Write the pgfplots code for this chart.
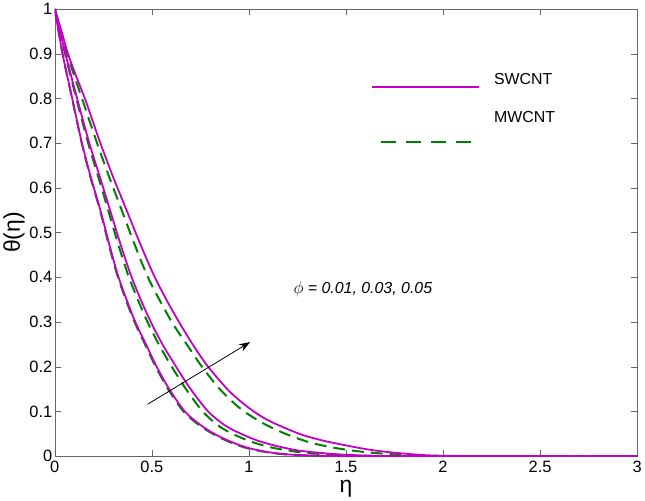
\documentclass[border=0pt]{standalone}
\usepackage{pgfplots}
\pgfplotsset{compat=1.18}
\usepackage{fontspec}
\setmainfont{Liberation Sans}
\usetikzlibrary{arrows.meta}

\definecolor{swcnt}{RGB}{196,0,196}
\definecolor{mwcnt}{RGB}{0,128,0}

\begin{document}
\begin{tikzpicture}
\begin{axis}[
    width=586pt, height=450pt, scale only axis,
    xmin=0, xmax=3, ymin=0, ymax=1,
    xtick={0,0.5,...,3}, ytick={0,0.1,...,1},
    tick align=inside, major tick length=6pt,
    axis line style={black!60}, tick style={black!60},
    tick label style={font=\fontsize{16.5}{18}\selectfont},
    yticklabel style={xshift=1pt},
    xticklabel style={yshift=-1.5pt},
    /pgf/number format/assume math mode=true,
    xlabel={η}, ylabel={θ(η)},
    label style={font=\fontsize{23}{26}\selectfont},
    xlabel style={yshift=-1pt},
    ylabel style={yshift=-2pt},
    every axis plot/.append style={smooth, tension=0.5},
]
% MWCNT (dashed) first, SWCNT on top
\addplot[mwcnt, line width=2pt, dash pattern=on 12pt off 7pt] coordinates {
(0,1) (0.04,0.9) (0.089,0.8) (0.139,0.7) (0.183,0.625) (0.233,0.55) (0.277,0.475)
(0.322,0.405) (0.366,0.35) (0.411,0.3) (0.465,0.25) (0.52,0.2) (0.584,0.15)
(0.663,0.1) (0.742,0.07) (0.822,0.048) (0.91,0.03) (0.99,0.018) (1.09,0.009)
(1.19,0.004) (1.34,0.001) (1.5,0) (3,0)};
\addplot[mwcnt, line width=2pt, dash pattern=on 12pt off 7pt] coordinates {
(0,1) (0.053,0.9) (0.111,0.8) (0.172,0.7) (0.224,0.625) (0.275,0.55) (0.326,0.475)
(0.378,0.405) (0.428,0.35) (0.478,0.3) (0.536,0.25) (0.603,0.2) (0.676,0.15)
(0.762,0.1) (0.85,0.066) (0.936,0.046) (1.014,0.032) (1.11,0.02) (1.21,0.012)
(1.3,0.007) (1.45,0.003) (1.6,0.001) (1.75,0) (3,0)};
\addplot[mwcnt, line width=2pt, dash pattern=on 12pt off 7pt] coordinates {
(0,1) (0.075,0.885) (0.14,0.8) (0.218,0.7) (0.28,0.625) (0.345,0.55) (0.41,0.475)
(0.48,0.4) (0.545,0.345) (0.61,0.295) (0.68,0.25) (0.75,0.205) (0.85,0.15)
(0.96,0.105) (1.08,0.072) (1.2,0.048) (1.32,0.03) (1.45,0.018) (1.6,0.009)
(1.75,0.004) (1.9,0.001) (2.2,0) (3,0)};
\addplot[swcnt, line width=1.8pt] coordinates {
(0,1) (0.04,0.9) (0.09,0.8) (0.14,0.7) (0.185,0.625) (0.235,0.55) (0.28,0.475)
(0.325,0.405) (0.37,0.35) (0.415,0.3) (0.47,0.25) (0.525,0.2) (0.59,0.15)
(0.67,0.1) (0.75,0.07) (0.83,0.048) (0.92,0.03) (1.0,0.018) (1.1,0.009)
(1.2,0.004) (1.35,0.001) (1.5,0) (3,0)};
\addplot[swcnt, line width=1.8pt] coordinates {
(0,1) (0.055,0.9) (0.115,0.8) (0.178,0.7) (0.232,0.625) (0.285,0.55) (0.338,0.475)
(0.392,0.405) (0.443,0.35) (0.495,0.3) (0.555,0.25) (0.625,0.2) (0.70,0.15)
(0.79,0.1) (0.88,0.068) (0.97,0.048) (1.05,0.034) (1.15,0.022) (1.25,0.013)
(1.35,0.008) (1.5,0.003) (1.65,0.001) (1.8,0) (3,0)};
\addplot[swcnt, line width=1.8pt] coordinates {
(0,1) (0.035,0.95) (0.068,0.9) (0.11,0.85) (0.155,0.8) (0.195,0.75) (0.235,0.7)
(0.30,0.625) (0.37,0.55) (0.44,0.475) (0.51,0.405) (0.575,0.35) (0.64,0.3)
(0.715,0.247) (0.79,0.2) (0.9,0.145) (1.0,0.108) (1.1,0.08) (1.26,0.05)
(1.38,0.035) (1.49,0.025) (1.6,0.016) (1.7,0.01) (1.85,0.004) (2.0,0.001)
(2.5,0) (3,0)};
% legend, placed as in the original
\draw[color=swcnt, line width=1.6pt] (axis cs:1.635,0.826) -- (axis cs:2.185,0.826);
\draw[color=mwcnt, line width=1.6pt, dash pattern=on 15pt off 10pt] (axis cs:1.681,0.703) -- (axis cs:2.149,0.703);
\node[anchor=west, font=\fontsize{16}{18}\selectfont, inner sep=0pt] at (axis cs:2.262,0.8436) {SWCNT};
\node[anchor=west, font=\fontsize{16}{18}\selectfont, inner sep=0pt] at (axis cs:2.262,0.7587) {MWCNT};
% annotation
\draw[-{Stealth[length=11pt,width=8pt]}, line width=0.8pt] (axis cs:0.478,0.116) -- (axis cs:1.006,0.255);
\node[anchor=west, font=\fontsize{16}{18}\selectfont\itshape, inner sep=0pt] at (axis cs:1.229,0.374) {$\phi$ = 0.01, 0.03, 0.05};
\end{axis}
\end{tikzpicture}
\end{document}
